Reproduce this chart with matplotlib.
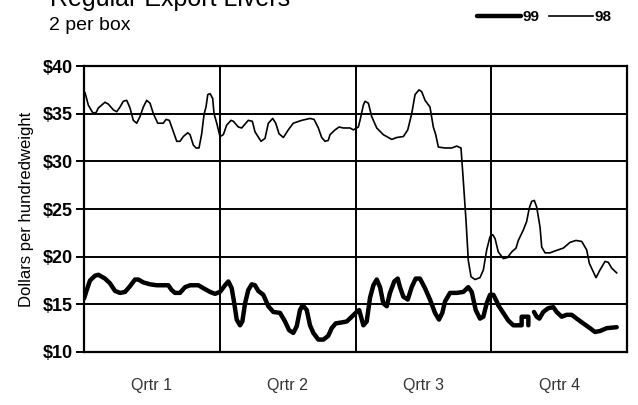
import numpy as np
import matplotlib
matplotlib.use("Agg")
import matplotlib.pyplot as plt

plt.rcParams["font.family"] = ["Liberation Sans", "DejaVu Sans"]

# week of year (0-52) and price, dollars per hundredweight
weeks_98 = [0.1, 0.41, 0.83, 1.15, 1.37, 2.01, 2.33, 2.81, 3.13, 3.45, 3.76, 4.09, 4.40, 4.72,
            5.05, 5.36, 5.68, 6.00, 6.32, 6.64, 7.06, 7.59, 7.85, 8.17, 8.49, 8.88, 9.19, 9.51,
            9.93, 10.15, 10.47, 10.73, 11.01, 11.27, 11.49, 11.68, 11.85, 12.07, 12.32, 12.45,
            12.71, 13.02, 13.34, 13.66, 14.08, 14.30, 14.78, 15.10, 15.73, 16.12, 16.37, 16.95,
            17.33, 17.65, 18.07, 18.36, 18.67, 19.09, 19.56, 20.04, 20.85, 21.64, 22.03, 22.44,
            22.76, 23.08, 23.39, 23.56, 24.04, 24.42, 24.83, 25.47, 25.79, 26.27, 26.43, 26.75,
            26.91, 27.23, 27.55, 28.03, 28.66, 29.47, 29.94, 30.58, 31.00, 31.38, 31.70, 32.08,
            32.34, 32.66, 33.13, 33.45, 33.68, 33.93, 34.57, 35.21, 35.69, 36.10, 36.32, 36.58,
            36.80, 37.06, 37.44, 37.92, 38.24, 38.56, 38.88, 39.14, 39.36, 39.67, 40.15, 40.54,
            40.96, 41.37, 41.59, 42.07, 42.39, 42.64, 42.87, 43.12, 43.35, 43.67, 43.83, 44.15,
            44.62, 45.10, 45.90, 46.54, 47.11, 47.66, 48.14, 48.39, 48.77, 49.03, 49.41, 49.89,
            50.21, 50.53, 51.01]
price_98 = [37.2, 35.9, 35.1, 35.1, 35.6, 36.2, 36.0, 35.4, 35.2, 35.7, 36.3, 36.4, 35.6, 34.3,
            34.0, 34.7, 35.7, 36.4, 36.1, 35.0, 34.0, 34.0, 34.4, 34.3, 33.3, 32.1, 32.1, 32.6,
            33.0, 32.8, 31.7, 31.4, 31.4, 32.9, 34.9, 35.7, 37.0, 37.1, 36.6, 35.0,
            34.0, 32.6, 32.8, 33.8, 34.3, 34.2, 33.6, 33.5, 34.3, 34.2, 33.1, 32.1,
            32.4, 34.0, 34.5, 34.0, 32.9, 32.5, 33.3, 34.0, 34.3, 34.5, 34.4, 33.5,
            32.5, 32.1, 32.2, 32.8, 33.3, 33.6, 33.5, 33.5, 33.3, 33.6, 34.3, 35.9,
            36.3, 36.1, 34.7, 33.5, 32.8, 32.3, 32.5, 32.6, 33.3, 35.0, 37.0, 37.5,
            37.3, 36.4, 35.7, 33.6, 32.8, 31.5, 31.4, 31.4, 31.6, 31.4, 28.0, 23.8,
            19.6, 17.9, 17.6, 17.8, 18.6, 20.7, 22.1, 22.3, 21.9, 20.5, 19.8, 19.9,
            20.5, 20.9, 21.7, 22.8, 23.7, 25.1, 25.8, 25.9, 25.2, 23.1, 21.0, 20.4,
            20.4, 20.6, 20.9, 21.5, 21.7, 21.6, 20.7, 19.3, 18.4, 17.8, 18.6, 19.5,
            19.4, 18.8, 18.3]

weeks_99 = [0.0, 0.26, 0.57, 1.05, 1.37, 2.01, 2.49, 2.97, 3.45, 3.93, 4.40, 4.88, 5.20, 5.68,
            6.32, 6.96, 8.07, 8.39, 8.71, 9.19, 9.67, 10.15, 10.95, 11.42, 12.07, 12.54, 13.02,
            13.50, 13.82, 14.14, 14.39, 14.62, 14.94, 15.16, 15.42, 15.73, 16.06, 16.37, 16.69,
            17.17, 17.65, 18.13, 18.77, 19.25, 19.63, 20.04, 20.37, 20.68, 20.94, 21.33, 21.64,
            21.96, 22.44, 22.92, 23.39, 23.72, 24.10, 24.68, 25.16, 25.64, 26.11, 26.35, 26.75,
            27.07, 27.39, 27.71, 28.03, 28.35, 28.66, 28.99, 29.30, 29.71, 30.04, 30.26, 30.58,
            31.00, 31.38, 31.76, 32.17, 32.65, 33.13, 33.61, 33.99, 34.31, 34.57, 35.05, 35.69,
            36.32, 36.80, 37.13, 37.51, 37.92, 38.24, 38.56, 38.88, 39.20, 39.52, 39.67, 40.15,
            40.63, 41.11, 41.91, 41.91, 42.55, 42.55, 42.8,
            43.09, 43.35, 43.60, 43.98, 44.46, 44.94, 45.26, 45.74, 46.22, 46.70, 47.18, 47.81,
            48.45, 48.93, 49.41, 50.05, 51.01]
price_99 = [15.6, 16.5, 17.5, 18.0, 18.1, 17.7, 17.2, 16.4, 16.2, 16.3, 16.9, 17.6, 17.6, 17.3,
            17.1, 17.0, 17.0, 16.5, 16.2, 16.2, 16.8, 17.0, 17.0, 16.7, 16.3, 16.1, 16.3,
            17.0, 17.4, 16.7, 15.1, 13.4, 12.8, 13.2, 15.1, 16.5, 17.1, 17.0, 16.4,
            16.0, 14.8, 14.2, 14.1, 13.2, 12.3, 12.0, 12.7, 14.4, 14.9, 14.4, 12.8,
            12.0, 11.3, 11.3, 11.7, 12.5, 13.0, 13.1, 13.2, 13.7, 14.2, 14.4, 12.8,
            13.2, 15.7, 17.0, 17.6, 16.8, 15.1, 14.8, 16.2, 17.4, 17.7, 16.8, 15.8,
            15.5, 16.8, 17.7, 17.7, 16.7, 15.5, 14.1, 13.4, 14.1, 15.3, 16.2, 16.2,
            16.3, 16.8, 16.3, 14.4, 13.5, 13.7, 15.1, 16.0, 16.0, 15.3, 14.9, 14.1,
            13.3, 12.8, 12.8, 13.7, 13.7, 12.8, np.nan,
            14.2, 13.7, 13.5, 14.2, 14.6, 14.7, 14.2, 13.7, 13.9, 13.9, 13.5, 13.0,
            12.5, 12.1, 12.2, 12.5, 12.6]

quarter_labels = ["Qrtr 1", "Qrtr 2", "Qrtr 3", "Qrtr 4"]
quarter_edges = [13, 26, 39]
y_ticks = [10, 15, 20, 25, 30, 35, 40]

fig = plt.figure(figsize=(6.38, 4.05), dpi=100)
ax = fig.add_axes([0.1317, 0.1309, 0.8511, 0.7061])

ax.plot(weeks_98, price_98, color="black", lw=1.2, label="98", solid_joinstyle="round")
ax.plot(weeks_99, price_99, color="black", lw=3.2, label="99", solid_joinstyle="round",
        solid_capstyle="round")

ax.set_xlim(0, 52)
ax.set_ylim(10, 40)

for y in y_ticks:
    ax.axhline(y, color="black", lw=1.4, zorder=0)
for x in quarter_edges:
    ax.axvline(x, color="black", lw=1.4, zorder=0)

for s in ax.spines.values():
    s.set_linewidth(1.6)

ax.set_yticks(y_ticks)
ax.set_yticklabels(["$%d" % v for v in y_ticks], fontweight="bold", fontsize=13)
ax.tick_params(axis="y", length=6, width=1.4, pad=2)

ax.set_xticks([6.5, 19.5, 32.5, 45.5])
ax.set_xticklabels(quarter_labels, fontsize=11.5, color="#333333")
ax.tick_params(axis="x", length=0, pad=19)

ax.set_ylabel("Dollars per hundredweight", fontsize=12)
ax.yaxis.set_label_coords(-0.092, 0.5)

fig.text(0.078, 0.985, "Regular Export Livers", fontsize=18, va="baseline")
fig.text(0.077, 0.926, "2 per box", fontsize=14, va="baseline")

h98, h99 = ax.get_lines()[0], ax.get_lines()[1]
leg = fig.legend([h99, h98], ["99", "98"], loc="center right",
                 bbox_to_anchor=(0.975, 0.958), ncol=2, frameon=False,
                 handlelength=2.9, handletextpad=0.1, columnspacing=0.6,
                 borderpad=0.2,
                 prop={"weight": "bold", "size": 11})

fig.savefig("out.png", dpi=100)
